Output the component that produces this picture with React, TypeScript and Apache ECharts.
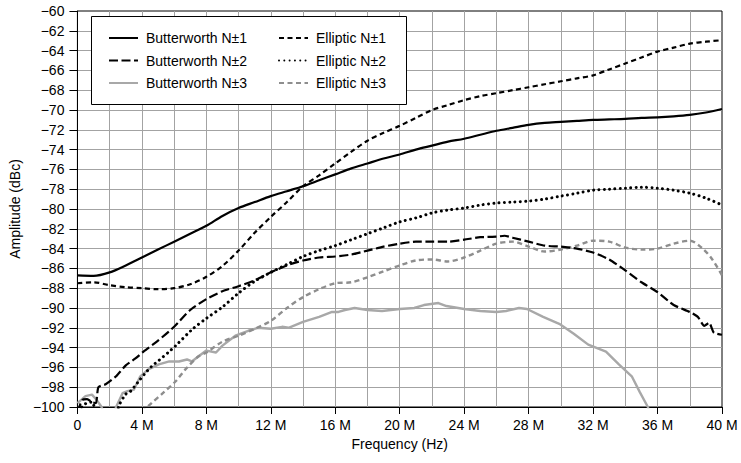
import React, { useEffect, useRef } from "react";
import * as echarts from "echarts";

// Frequency in MHz, amplitude in dBc
const butterworth1: [number, number][] = [
  [0, -86.7], [1, -86.75], [2, -86.4], [3, -85.7], [4, -84.9], [5, -84.1], [6, -83.3], [7, -82.5],
  [8, -81.7], [9, -80.7], [10, -79.9], [11, -79.3], [12, -78.7], [13, -78.2], [14, -77.7], [15, -77.1],
  [16, -76.5], [17, -75.9], [18, -75.4], [19, -74.9], [20, -74.5], [21, -74.0], [22, -73.6], [23, -73.2],
  [24, -72.9], [25, -72.5], [26, -72.1], [27, -71.8], [28, -71.5], [29, -71.3], [30, -71.2], [31, -71.1],
  [32, -71.0], [33, -70.95], [34, -70.9], [35, -70.8], [36, -70.75], [37, -70.65], [38, -70.5], [39, -70.25],
  [40, -69.9],
];

const elliptic1: [number, number][] = [
  [0, -87.5], [1, -87.4], [2, -87.7], [3, -87.9], [4, -88.0], [5, -88.1], [6, -88.0], [7, -87.6],
  [8, -86.85], [9, -85.75], [10, -84.2], [11, -82.4], [12, -80.8], [13, -79.3], [14, -77.7], [15, -76.6],
  [16, -75.4], [17, -74.2], [18, -73.1], [19, -72.3], [20, -71.6], [21, -70.8], [22, -70.0], [23, -69.5],
  [24, -69.0], [25, -68.6], [26, -68.3], [27, -68.0], [28, -67.7], [29, -67.4], [30, -67.1], [31, -66.8],
  [32, -66.5], [33, -65.9], [34, -65.3], [35, -64.7], [36, -64.1], [37, -63.7], [38, -63.3], [39, -63.1],
  [40, -62.95],
];

const butterworth2: [number, number][] = [
  [0, -100.5], [0.3, -99.3], [0.6, -99.2], [0.9, -99.5], [1.15, -99.6], [1.3, -98.0], [1.75, -97.7],
  [2.4, -96.9], [3.0, -95.8], [3.6, -95.1], [4.1, -94.4], [5, -93.3], [6, -91.9], [7, -90.2], [8, -89.1],
  [9, -88.3], [10, -87.8], [11, -87.2], [12, -86.4], [13, -85.7], [14, -85.2], [15, -84.9], [16, -84.8],
  [17, -84.6], [18, -84.2], [19, -83.8], [20, -83.5], [21, -83.3], [22, -83.3], [23, -83.3], [24, -83.1],
  [25, -82.85], [26, -82.8], [26.5, -82.7], [27, -82.9], [28, -83.3], [29, -83.7], [30, -83.8], [31, -84.0],
  [32, -84.4], [33, -85.1], [34, -86.2], [35, -87.4], [36, -88.4], [37, -89.7], [38, -90.4], [38.5, -90.9],
  [38.9, -91.8], [39.2, -91.5], [39.5, -92.5], [40, -92.7],
];

const elliptic2: [number, number][] = [
  [0, -101], [0.3, -99.9], [0.6, -99.6], [0.9, -99.5], [1.1, -100.5], [1.3, -102], [2.3, -102],
  [2.55, -100], [3.0, -98.7], [3.3, -98.4], [3.8, -97.4], [4.2, -96.6], [4.6, -95.9], [5.05, -95.3],
  [5.7, -94.4], [6.1, -93.8], [7.1, -92.2], [8, -91.05], [9, -89.9], [10, -88.5], [11, -87.3], [12, -86.4],
  [13, -85.6], [14, -84.8], [15, -84.2], [16, -83.7], [17, -83.1], [18, -82.5], [19, -81.9], [20, -81.3],
  [21, -80.9], [22, -80.4], [23, -80.1], [24, -79.9], [25, -79.6], [26, -79.4], [27, -79.3], [28, -79.2],
  [29, -79.0], [30, -78.7], [31, -78.4], [32, -78.1], [33, -78.0], [34, -77.9], [35, -77.8], [36, -77.9],
  [37, -78.1], [38, -78.4], [39, -78.9], [40, -79.6],
];

const butterworth3: [number, number][] = [
  [0, -99.6], [0.5, -98.9], [0.9, -98.75], [1.2, -99.3], [1.5, -100.0], [1.7, -101], [2.2, -101],
  [2.4, -100], [2.8, -98.6], [3.1, -98.4], [3.5, -98.25], [3.9, -96.9], [4.4, -96.2], [5.05, -95.7],
  [5.7, -95.4], [6.3, -95.4], [6.8, -95.2], [7.1, -95.4], [7.5, -94.9], [8, -94.3], [8.6, -94.5],
  [9, -93.8], [9.8, -92.8], [10.6, -92.3], [11.2, -92.0], [12, -92.1], [12.7, -91.9], [13.1, -92.0],
  [14, -91.4], [15, -90.9], [15.8, -90.4], [16.2, -90.4], [16.6, -90.2], [17.2, -90.0], [18, -90.2],
  [18.9, -90.3], [20, -90.1], [20.9, -90.0], [21.5, -89.7], [22.4, -89.5], [22.9, -89.8], [24, -90.1],
  [25, -90.3], [26, -90.4], [26.6, -90.3], [27.4, -90.0], [27.9, -90.1], [28.9, -90.9], [29.9, -91.6],
  [30.8, -92.6], [31.7, -93.7], [32.8, -94.4], [33.6, -95.7], [34.4, -96.9], [34.9, -98.5], [35.4, -100],
  [35.6, -101],
];

const elliptic3: [number, number][] = [
  [4.0, -100.5], [4.6, -99.6], [5.3, -98.6], [6.1, -97.4], [6.7, -96.2], [7.5, -94.9], [8, -94.5],
  [9, -93.4], [10, -92.8], [11, -92.1], [12, -91.3], [13, -90.0], [14, -88.9], [15, -88.1], [16, -87.5],
  [17, -87.4], [18, -86.9], [19, -86.3], [20, -85.7], [21, -85.2], [22, -85.1], [23, -85.3], [24, -84.9],
  [25, -84.2], [26, -83.5], [27, -83.3], [28, -83.8], [29, -84.3], [30, -84.1], [31, -83.7], [32, -83.2],
  [33, -83.3], [34, -83.9], [35, -84.1], [36, -84.0], [37, -83.5], [38, -83.2], [38.8, -84.0], [39.4, -85.1],
  [40, -86.7],
];

const seriesNames = [
  "Butterworth N±1",
  "Butterworth N±2",
  "Butterworth N±3",
  "Elliptic N±1",
  "Elliptic N±2",
  "Elliptic N±3",
];

const FONT = "'Liberation Sans', Arial, Helvetica, sans-serif";

export default function App() {
  const ref = useRef<HTMLDivElement>(null);

  useEffect(() => {
    if (!ref.current) return;
    const chart = echarts.init(ref.current, undefined, { renderer: "svg" });

    const mk = (
      name: string,
      data: [number, number][],
      color: string,
      width: number,
      dash: number[] | "solid",
      cap: "butt" | "round" = "butt",
      smooth: number | boolean = 0.3
    ) => ({
      name,
      type: "line",
      data,
      smooth,
      symbol: "none",
      showSymbol: false,
      clip: true,
      z: 2,
      lineStyle: { color, width, type: dash, cap, join: "round" },
      itemStyle: { color },
    });

    const gridColor = "#a3a3a3";

    const legendBase = {
      orient: "vertical",
      top: 31,
      padding: 0,
      itemWidth: 29,
      itemHeight: 14,
      itemGap: 8.5,
      z: 20,
      selectedMode: false,
      itemStyle: { opacity: 0, borderWidth: 0, color: "transparent" },
      textStyle: { color: "#000", fontSize: 14, fontFamily: FONT, padding: [0, 0, 0, 3] },
    };

    chart.setOption({
      animation: false,
      textStyle: { fontFamily: FONT },
      grid: {
        left: 75,
        right: 19,
        top: 11,
        bottom: 56,
        show: true,
        borderColor: "#000",
        borderWidth: 1,
        backgroundColor: "transparent",
      },
      xAxis: {
        type: "value",
        min: 0,
        max: 40,
        interval: 4,
        name: "Frequency (Hz)",
        nameLocation: "middle",
        nameGap: 28,
        nameTextStyle: { color: "#000", fontSize: 14, fontFamily: FONT },
        axisLine: { show: true, onZero: false, lineStyle: { color: "#000", width: 1 } },
        axisTick: { show: true, length: 7, lineStyle: { color: "#000" } },
        axisLabel: {
          color: "#000",
          fontSize: 14,
          fontFamily: FONT,
          margin: 11,
          formatter: (v: number) => (v === 0 ? "0" : `${v} M`),
        },
        splitLine: { show: true, showMinLine: false, showMaxLine: false, lineStyle: { color: gridColor, width: 1 } },
        minorTick: { show: false, splitNumber: 2 },
        minorSplitLine: { show: true, lineStyle: { color: gridColor, width: 1 } },
      },
      yAxis: {
        type: "value",
        min: -100,
        max: -60,
        interval: 2,
        name: "Amplitude (dBc)",
        nameLocation: "middle",
        nameGap: 54,
        nameTextStyle: { color: "#000", fontSize: 14, fontFamily: FONT },
        axisLine: { show: true, onZero: false, lineStyle: { color: "#000", width: 1 } },
        axisTick: { show: true, length: 8, lineStyle: { color: "#000" } },
        axisLabel: {
          color: "#000",
          fontSize: 14,
          fontFamily: FONT,
          margin: 13,
          formatter: (v: number) => (v < 0 ? `\u2212${Math.abs(v)}` : `${v}`),
        },
        splitLine: { show: true, showMinLine: false, showMaxLine: false, lineStyle: { color: gridColor, width: 1 } },
      },
      graphic: [
        {
          type: "rect",
          z: 10,
          shape: { x: 91.5, y: 16.5, width: 315, height: 88 },
          style: { fill: "#fff", stroke: "#000", lineWidth: 1 },
        },
      ],
      legend: [
        { ...legendBase, data: [seriesNames[0], seriesNames[1], seriesNames[2]], left: 108 },
        { ...legendBase, data: [seriesNames[3], seriesNames[4], seriesNames[5]], left: 278 },
      ],
      series: [
        mk(seriesNames[2], butterworth3, "#a8a8a8", 2.4, "solid", "butt", false),
        mk(seriesNames[5], elliptic3, "#8e8e8e", 2.4, [5, 3.5]),
        mk(seriesNames[1], butterworth2, "#000", 2.2, [9, 3.5], "butt", 0.2),
        mk(seriesNames[4], elliptic2, "#000", 3, [0.01, 5.3], "round"),
        mk(seriesNames[3], elliptic1, "#000", 2.2, [5, 3.5]),
        mk(seriesNames[0], butterworth1, "#000", 2.2, "solid"),
      ],
    });

    return () => chart.dispose();
  }, []);

  return (
    <div
      ref={ref}
      style={{ position: "fixed", left: 0, top: 0, width: 741, height: 463, background: "#fff" }}
    />
  );
}
